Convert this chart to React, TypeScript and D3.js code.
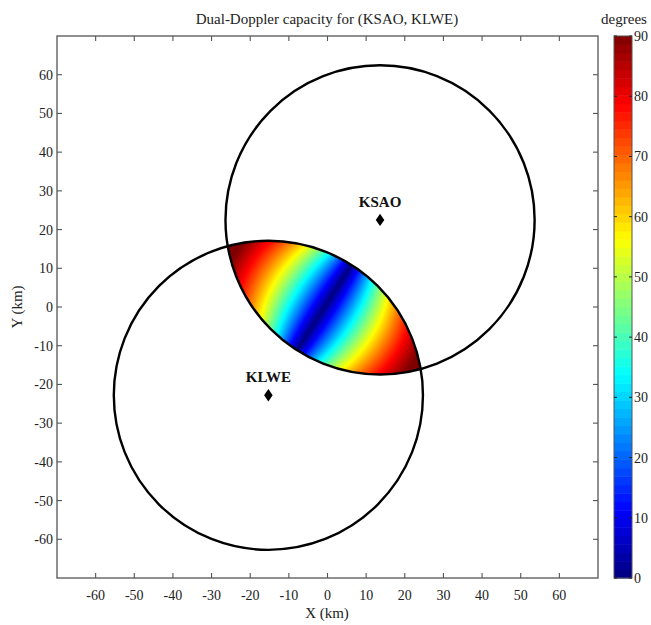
import React, { useMemo } from "react";
import * as d3 from "d3";

// Radar sites (km relative to grid origin) and the maximum dual-Doppler range
const stationNames = ["KSAO", "KLWE"];
const stationX = [13.6, -15.3];
const stationY = [22.5, -22.8];
const maxRangeKm = 40;

// Axis extents and tick labels
const xDomain = [-70, 70];
const yDomain = [-70, 70];
const axisTicks = [-60, -50, -40, -30, -20, -10, 0, 10, 20, 30, 40, 50, 60];
const colorTicks = [0, 10, 20, 30, 40, 50, 60, 70, 80, 90];
const colorDomain = [0, 90];
const colorLevels = 64;

const W = 651;
const H = 625;
const M = { left: 57, right: 598, top: 36, bottom: 578 };
const CB = { left: 614, right: 632 };
const FONT = "'Liberation Serif', 'Times New Roman', serif";

// MATLAB-style jet colormap
function jet(t: number): string {
  const c = (v: number) => Math.max(0, Math.min(1, v));
  const r = c(Math.min(4 * t - 1.5, -4 * t + 4.5));
  const g = c(Math.min(4 * t - 0.5, -4 * t + 3.5));
  const b = c(Math.min(4 * t + 0.5, -4 * t + 2.5));
  return d3.rgb(r * 255, g * 255, b * 255).formatHex();
}

export default function App() {
  const x = d3.scaleLinear().domain(xDomain).range([M.left, M.right]);
  const y = d3.scaleLinear().domain(yDomain).range([M.bottom, M.top]);
  const cy = d3.scaleLinear().domain(colorDomain).range([M.bottom, M.top]);
  const rPx = x(maxRangeKm) - x(0);

  // Beam-crossing field inside the overlap of both range rings
  const field = useMemo(() => {
    const ss = 2;
    const w = Math.round((M.right - M.left) * ss);
    const h = Math.round((M.bottom - M.top) * ss);
    const canvas = document.createElement("canvas");
    canvas.width = w;
    canvas.height = h;
    const ctx = canvas.getContext("2d");
    if (!ctx) return null;
    const img = ctx.createImageData(w, h);
    const [ax, bx] = stationX;
    const [ay, by] = stationY;
    for (let j = 0; j < h; j++) {
      const ky = y.invert(M.top + (j + 0.5) / ss);
      for (let i = 0; i < w; i++) {
        const kx = x.invert(M.left + (i + 0.5) / ss);
        const v1x = ax - kx, v1y = ay - ky;
        const v2x = bx - kx, v2y = by - ky;
        const d1 = Math.hypot(v1x, v1y);
        const d2 = Math.hypot(v2x, v2y);
        if (d1 > maxRangeKm || d2 > maxRangeKm) continue;
        const cosA = (v1x * v2x + v1y * v2y) / (d1 * d2);
        const ang = (Math.acos(Math.max(-1, Math.min(1, cosA))) * 180) / Math.PI;
        const val = Math.max(0, Math.min(90, 180 - ang));
        const col = d3.rgb(jet(val / 90));
        const k = (j * w + i) * 4;
        img.data[k] = col.r;
        img.data[k + 1] = col.g;
        img.data[k + 2] = col.b;
        img.data[k + 3] = 255;
      }
    }
    ctx.putImageData(img, 0, 0);
    return canvas.toDataURL();
  }, []);

  const diamond = d3.symbol(d3.symbolDiamond, 44)() || "";
  const levelStep = (colorDomain[1] - colorDomain[0]) / colorLevels;
  const levels = d3.range(colorLevels).map((i) => colorDomain[0] + i * levelStep);

  const axisColor = "#555";

  return (
    <svg
      width={W}
      height={H}
      style={{ position: "absolute", left: 0, top: 0, background: "#fff" }}
      fontFamily={FONT}
    >
      <rect x={0} y={0} width={W} height={H} fill="#fff" />
      <text x={327} y={24} textAnchor="middle" fontSize={15} fill="#222">
        Dual-Doppler capacity for (KSAO, KLWE)
      </text>

      {field && (
        <image
          href={field}
          x={M.left}
          y={M.top}
          width={M.right - M.left}
          height={M.bottom - M.top}
          preserveAspectRatio="none"
        />
      )}

      {/* range rings */}
      {stationNames.map((n, i) => (
        <circle
          key={n}
          cx={x(stationX[i])}
          cy={y(stationY[i])}
          r={rPx}
          fill="none"
          stroke="#000"
          strokeWidth={2.4}
        />
      ))}

      {/* radar sites */}
      {stationNames.map((n, i) => (
        <g key={n} transform={`translate(${x(stationX[i])},${y(stationY[i])})`}>
          <path d={diamond} fill="#000" transform="scale(1.2,1)" />
          <text y={-13} textAnchor="middle" fontSize={15} fontWeight="bold" fill="#111">
            {n}
          </text>
        </g>
      ))}

      {/* frame and inward ticks */}
      <rect
        x={M.left}
        y={M.top}
        width={M.right - M.left}
        height={M.bottom - M.top}
        fill="none"
        stroke={axisColor}
        strokeWidth={1.3}
      />
      {axisTicks.map((t) => (
        <g key={`x${t}`} stroke={axisColor} strokeWidth={1.1}>
          <line x1={x(t)} x2={x(t)} y1={M.bottom} y2={M.bottom - 5} />
          <line x1={x(t)} x2={x(t)} y1={M.top} y2={M.top + 5} />
          <line y1={y(t)} y2={y(t)} x1={M.left} x2={M.left + 5} />
          <line y1={y(t)} y2={y(t)} x1={M.right} x2={M.right - 5} />
        </g>
      ))}
      {axisTicks.map((t) => (
        <text key={`xl${t}`} x={x(t)} y={M.bottom + 22} textAnchor="middle" fontSize={14} fill="#222">
          {t}
        </text>
      ))}
      {axisTicks.map((t) => (
        <text key={`yl${t}`} x={M.left - 4} y={y(t) + 5} textAnchor="end" fontSize={14} fill="#222">
          {t}
        </text>
      ))}
      <text x={327} y={618} textAnchor="middle" fontSize={15} fill="#222">
        X (km)
      </text>
      <text
        transform={`translate(22,${(M.top + M.bottom) / 2}) rotate(-90)`}
        textAnchor="middle"
        fontSize={15}
        fill="#222"
      >
        Y (km)
      </text>

      {/* colour bar */}
      {levels.map((v) => (
        <rect
          key={v}
          x={CB.left}
          y={cy(v + levelStep)}
          width={CB.right - CB.left}
          height={cy(v) - cy(v + levelStep) + 0.5}
          fill={jet((v - colorDomain[0] + levelStep / 2) / (colorDomain[1] - colorDomain[0]))}
        />
      ))}
      <rect
        x={CB.left}
        y={M.top}
        width={CB.right - CB.left}
        height={M.bottom - M.top}
        fill="none"
        stroke={axisColor}
        strokeWidth={1}
      />
      {colorTicks.map((t) => (
        <g key={`c${t}`} stroke="#222" strokeWidth={1}>
          <line x1={CB.left} x2={CB.left + 3} y1={cy(t)} y2={cy(t)} />
          <line x1={CB.right} x2={CB.right - 3} y1={cy(t)} y2={cy(t)} />
        </g>
      ))}
      {colorTicks.map((t) => (
        <text key={`cl${t}`} x={CB.right + 2} y={cy(t) + 5} fontSize={14} fill="#222">
          {t}
        </text>
      ))}
      <text x={624} y={24} textAnchor="middle" fontSize={15} fill="#222">
        degrees
      </text>
    </svg>
  );
}
